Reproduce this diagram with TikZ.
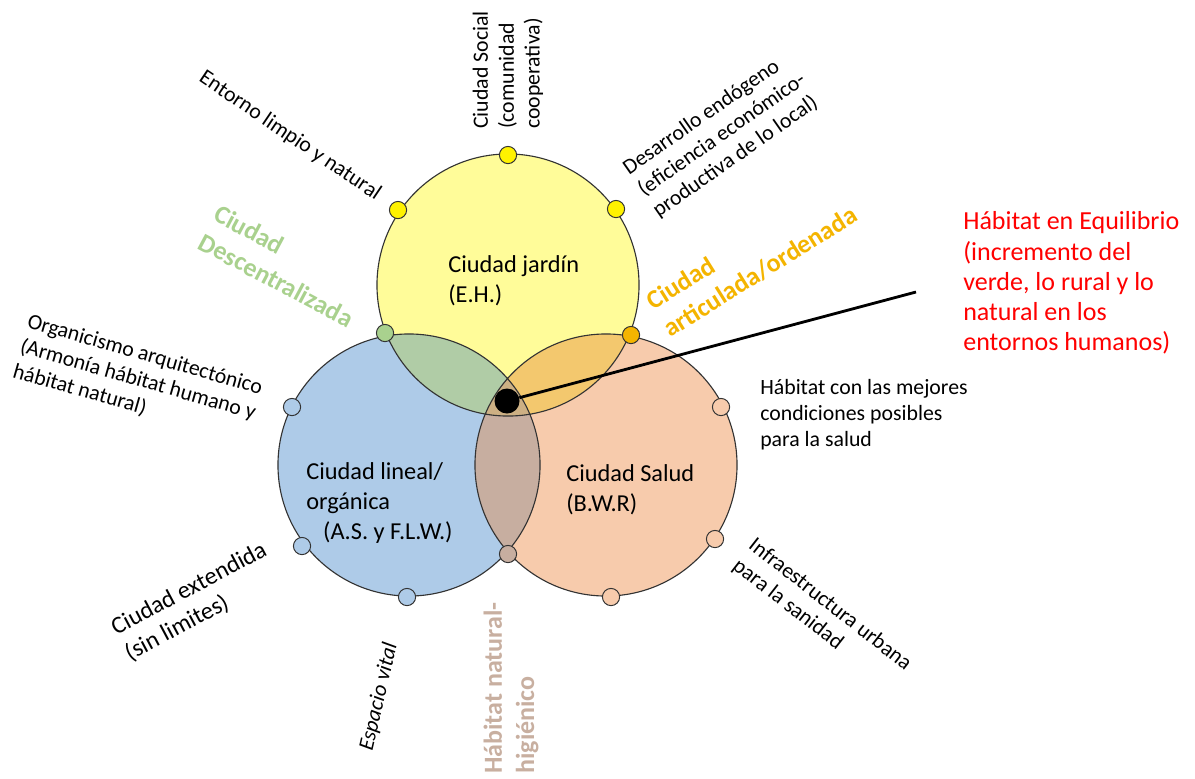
\documentclass[tikz,border=0pt]{standalone}
\usepackage{fontspec}
\setmainfont{Carlito}
\definecolor{cjardin}{HTML}{FFFC99}
\definecolor{clineal}{HTML}{AECBE8}
\definecolor{csalud}{HTML}{F7CBAC}
\definecolor{cJL}{HTML}{B0CCA6}
\definecolor{cJS}{HTML}{F3C86E}
\definecolor{cLS}{HTML}{C7AEA0}
\definecolor{cJLS}{HTML}{CDB084}
\definecolor{tgreen}{HTML}{A9D18E}
\definecolor{torange}{HTML}{F4B400}
\definecolor{tbrown}{HTML}{C8AFA0}

\begin{document}
\begin{tikzpicture}[x=0.025cm,y=-0.025cm,
  ring/.style={draw=black!80,line width=0.8pt},
  knot/.style={circle,draw=black!80,line width=0.7pt,inner sep=0pt,minimum size=0.43cm},
  side/.style={inner sep=0pt,align=left,font=\fontsize{15.5}{18.4}\selectfont},
  title/.style={inner sep=0pt,align=left,anchor=west,font=\fontsize{17.3}{21.3}\selectfont},
  tag/.style={inner sep=0pt,align=left,font=\fontsize{18.5}{23}\selectfont\bfseries}]
\useasboundingbox (0,0) rectangle (1195,778);
\coordinate (cJ) at (508,285); \coordinate (cL) at (409,465); \coordinate (cS) at (606,465);
\fill[cjardin] (cJ) circle (3.275cm);
\fill[clineal] (cL) circle (3.275cm);
\fill[csalud] (cS) circle (3.275cm);
\begin{scope}
\clip (cJ) circle (3.275cm);
\fill[cJL] (cL) circle (3.275cm);
\fill[cJS] (cS) circle (3.275cm);
\end{scope}
\begin{scope}
\clip (cL) circle (3.275cm);
\fill[cLS] (cS) circle (3.275cm);
\end{scope}
\begin{scope}
\clip (cJ) circle (3.275cm); \clip (cL) circle (3.275cm);
\fill[cJLS] (cS) circle (3.275cm);
\end{scope}
\draw[ring] (cJ) circle (3.275cm) (cL) circle (3.275cm) (cS) circle (3.275cm);

\node[title] (jardin) at (448,281) {Ciudad jardín\\(E.H.)};
\node[title] (lineal) at (306,503) {Ciudad lineal/\\orgánica\\\hspace{12pt}(A.S. y F.L.W.)};
\node[title] (salud) at (566,490) {Ciudad Salud\\(B.W.R)};

\node[knot,fill=yellow] (social) at (508,155) {};
\node[knot,fill=yellow] (entorno) at (398,210) {};
\node[knot,fill=yellow] (endogeno) at (616,209) {};
\node[knot,fill=tgreen] (descentral) at (385,333) {};
\node[knot,fill=torange] (articulada) at (631,335) {};
\node[knot,fill=cLS] (higienico) at (508,554) {};
\node[knot,fill=clineal] (organico) at (292,407) {};
\node[knot,fill=clineal] (extendida) at (302,546) {};
\node[knot,fill=clineal] (vital) at (407,597) {};
\node[knot,fill=csalud] (mejores) at (721,407) {};
\node[knot,fill=csalud] (sanidad) at (715,539) {};
\node[knot,fill=csalud] (saludb) at (611,597) {};

\node[side,rotate=-34] (lentorno) at (290,136) {Entorno limpio y natural};
\node[side,rotate=90] (lsocial) at (508,70) {Ciudad Social\\(comunidad\\cooperativa)};
\node[side,rotate=35] (lendogeno) at (722,135) {Desarrollo endógeno\\(eficiencia económico-\\productiva de lo local)};
\node[side,rotate=-16] (lorganico) at (138,380) {Organicismo arquitectónico\\(Armonía hábitat humano y\\hábitat natural)};
\node[side,anchor=west] (lmejores) at (760,415) {Hábitat con las mejores\\condiciones posibles\\para la salud};
\node[side,rotate=-38] (lsanidad) at (822,615) {Infraestructura urbana\\para la sanidad};
\node[side,rotate=28,font=\fontsize{17.3}{20.5}\selectfont] (lextendida) at (196,602) {Ciudad extendida\\(sin limites)};
\node[side,rotate=77,font=\fontsize{15.5}{18.4}\selectfont\itshape] (lvital) at (379,697) {Espacio vital};

\node[tag,rotate=-28,text=tgreen] (ldescentral) at (284,266) {Ciudad\\Descentralizada};
\node[tag,rotate=32,text=torange] (larticulada) at (752,258) {Ciudad\\articulada/ordenada};
\node[tag,rotate=90,text=tbrown] (lhigienico) at (511,688) {Hábitat natural-\\higiénico};

\node[inner sep=0pt,align=left,anchor=west,text=red,font=\fontsize{18.5}{21.5}\selectfont] (equilibrio) at (963,283)
  {Hábitat en Equilibrio\\(incremento del\\verde, lo rural y lo\\natural en los\\entornos humanos)};
\coordinate (tip) at (916,292);
\node[circle,fill=black,inner sep=0pt,minimum size=0.625cm] (hub) at (507,401) {};
\draw[line width=2pt] (hub) -- (tip);
\end{tikzpicture}
\end{document}
